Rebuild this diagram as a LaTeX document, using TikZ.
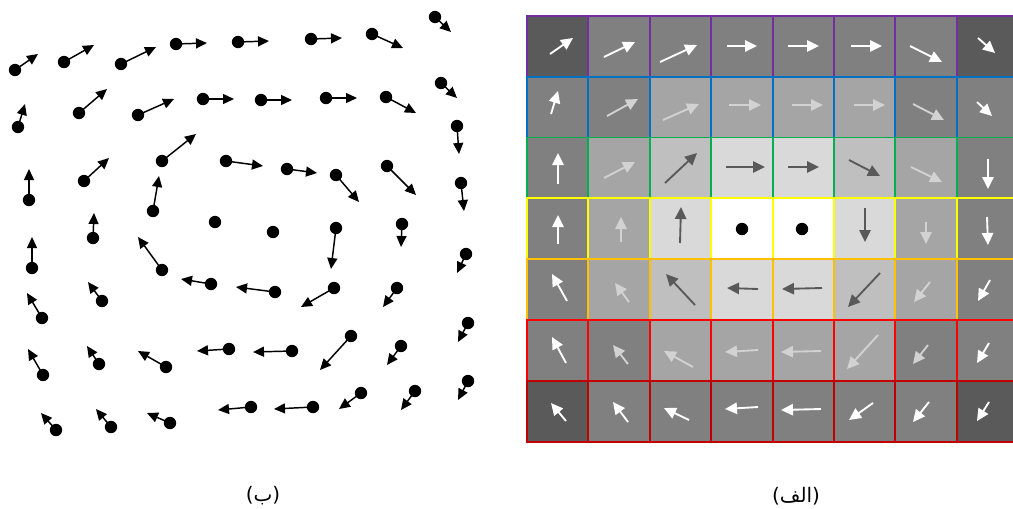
\documentclass[tikz,border=0pt]{standalone}
\usepackage{fontspec}
\newfontfamily\arabicfont[Script=Arabic]{DejaVu Sans}
\newfontfamily\labfont[Script=Latin]{DejaVu Sans}
\TeXXeTstate=1
\usetikzlibrary{arrows.meta}

\definecolor{gDark}{HTML}{5A5A5A}
\definecolor{gMid}{HTML}{808080}
\definecolor{gMed}{HTML}{A5A5A5}
\definecolor{gPale}{HTML}{BFBFBF}
\definecolor{gLite}{HTML}{D9D9D9}
\definecolor{vWhite}{HTML}{FFFFFF}
\definecolor{vLight}{HTML}{D2D2D2}
\definecolor{vDark}{HTML}{595959}
\definecolor{bPurple}{HTML}{7030A0}
\definecolor{bBlue}{HTML}{0070C0}
\definecolor{bGreen}{HTML}{00B050}
\definecolor{bYellow}{HTML}{FFFF00}
\definecolor{bOrange}{HTML}{FFC000}
\definecolor{bRed}{HTML}{FF0000}
\definecolor{bDRed}{HTML}{C00000}

\begin{document}
\begin{tikzpicture}[x=0.75pt,y=-0.75pt,
  fieldvec/.style={line width=1.1pt,-{Triangle[length=8.25pt,width=7.5pt]}},
  cellvec/.style={line width=1.4pt,-{Triangle[length=9pt,width=8.5pt]}},
  dot/.style={circle,fill=black,inner sep=0pt,minimum size=9.3pt},
  cellbox/.style={line width=1.4pt},
  caption/.style={font=\fontsize{15}{18}\selectfont\labfont}]
\useasboundingbox (0,0) rectangle (1013,508);
\clip (0,0) rectangle (1013,508);

% ---- left panel: sampled field with a dot at every sample point
\foreach \x/\y/\u/\v [count=\i] in {
  15/70/38/54, 64/62/94/45, 121/64/156/47, 176/44/207/43,
  238/42/269/41, 311/39/342/38, 372/34/403/48, 435/17/451/32,
  18/127/25/104, 79/113/107/89, 138/115/174/99, 203/99/234/99,
  261/100/292/100, 326/98/357/98, 386/97/416/113, 441/83/457/98,
  29/200/29/169, 84/181/109/158, 162/161/196/134, 226/161/263/166,
  287/169/317/173, 336/175/359/202, 387/166/416/195, 457/126/459/154,
  32/268/32/237, 93/238/94/213, 153/211/159/176,
  336/228/331/269, 402/224/401/247, 461/183/464/211,
  42/318/27/293, 102/301/88/282, 162/270/138/237, 211/284/181/279,
  275/292/236/287, 334/288/301/307, 397/288/383/307, 466/254/457/273,
  43/375/28/349, 99/364/87/346, 166/367/138/351, 229/349/197/351,
  292/351/253/352, 351/336/320/370, 401/346/387/365, 468/323/458/342,
  56/430/41/413, 111/427/96/409, 170/423/147/413, 251/407/218/410,
  313/407/274/409, 361/393/339/409, 415/391/401/410, 468/381/458/400}
{
  \node[dot] (p\i) at (\x,\y) {};
  \coordinate (q\i) at (\u,\v);
  \draw[fieldvec] (p\i.center) -- (q\i);
}
\node[dot] (c1) at (215,222) {};
\node[dot] (c2) at (273,232) {};

% ---- right panel: grid of cells, one outline colour per row
\foreach \r/\bc/\fl in {
  0/bPurple/{gDark,gMid,gMid,gMid,gMid,gMid,gMid,gDark},
  1/bBlue/{gMid,gMid,gMed,gMed,gMed,gMed,gMid,gMid},
  2/bGreen/{gMid,gMed,gPale,gLite,gLite,gPale,gMed,gMid},
  3/bYellow/{gMid,gMed,gLite,white,white,gLite,gMed,gMid},
  4/bOrange/{gMid,gMed,gPale,gLite,gLite,gPale,gMed,gMid},
  5/bRed/{gMid,gMid,gMed,gMed,gMed,gMed,gMid,gMid},
  6/bDRed/{gDark,gMid,gMid,gMid,gMid,gMid,gMid,gDark}}
{
  \foreach \f [count=\c from 0] in \fl {
    \path[cellbox,fill=\f,draw=\bc] ({527+\c*61.4},{15.7+\r*60.9}) rectangle ++(61.4,60.9);
  }
}

% vectors inside the cells
\foreach \x/\y/\u/\v/\col [count=\i] in {
  550/54/573/38/vWhite, 604/57/635/42/vWhite, 660/62/697/45/vWhite, 727/46/757/46/vWhite,
  788/46/819/46/vWhite, 851/46/882/46/vWhite, 910/46/942/62/vWhite, 978/38/995/53/vWhite,
  551/114/558/91/vWhite, 607/116/638/99/vLight, 663/120/699/104/vLight, 729/105/761/105/vLight,
  792/105/823/105/vLight, 854/105/885/105/vLight, 913/104/944/120/vLight, 977/102/992/116/vWhite,
  558/184/558/153/vWhite, 604/178/635/162/vLight, 665/183/697/153/vDark, 726/167/765/167/vDark,
  788/167/819/167/vDark, 849/160/880/176/vDark, 911/167/942/182/vLight, 988/159/988/189/vWhite,
  558/244/558/215/vWhite, 621/242/621/217/vLight, 680/243/681/207/vDark,
  865/208/865/242/vDark, 926/222/926/244/vLight, 987/217/988/245/vWhite,
  567/301/552/274/vWhite, 629/302/615/283/vLight, 695/305/666/274/vDark, 758/289/727/288/vDark,
  822/288/782/289/vDark, 880/273/848/307/vDark, 930/282/914/302/vLight, 990/280/978/301/vWhite,
  566/363/552/337/vWhite, 628/364/613/345/vLight, 693/367/664/351/vLight, 758/350/725/352/vLight,
  821/351/781/352/vLight, 878/335/847/369/vLight, 928/345/913/364/vLight, 989/343/977/363/vWhite,
  566/421/551/403/vWhite, 628/422/613/402/vWhite, 689/420/664/408/vWhite, 758/407/725/409/vWhite,
  821/409/781/410/vWhite, 873/403/849/420/vWhite, 929/402/913/422/vWhite, 989/402/977/421/vWhite}
{
  \coordinate (s\i) at (\x,\y);
  \coordinate (t\i) at (\u,\v);
  \draw[cellvec,draw=\col,fill=\col] (s\i) -- (t\i);
}
\node[dot] (z1) at (742,229) {};
\node[dot] (z2) at (802,229) {};

% ---- captions (Latin brackets around an isolated right-to-left word)
\node[caption] (capB) at (263,496) {{\labfont(}\mbox{\arabicfont\beginR ب\endR}{\labfont)}};
\node[caption] (capA) at (796,496) {{\labfont(}\mbox{\arabicfont\beginR الف\endR}{\labfont)}};
\end{tikzpicture}
\end{document}
